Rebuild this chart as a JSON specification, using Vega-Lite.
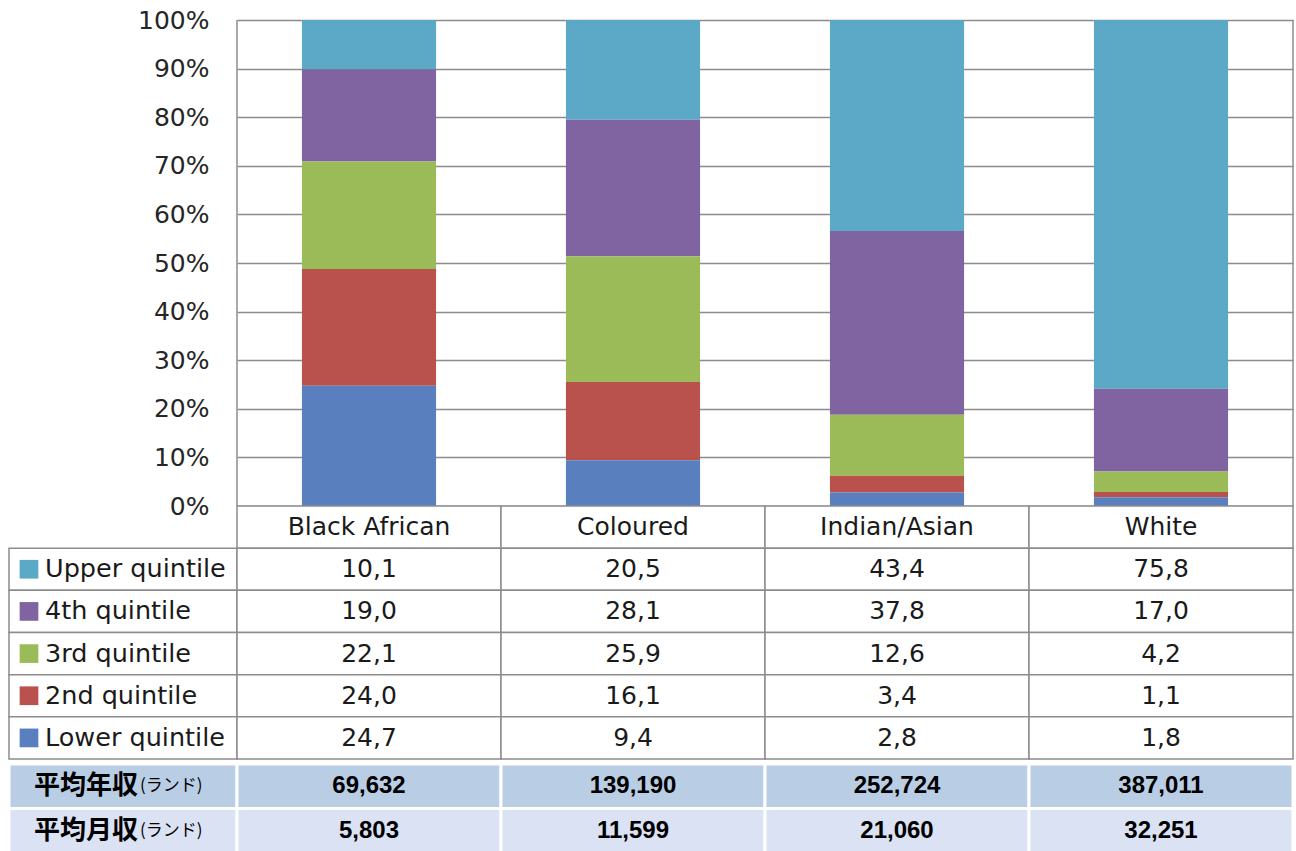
{
  "$schema": "https://vega.github.io/schema/vega-lite/v6.json",
  "padding": {"left": 7, "top": 8, "right": 5, "bottom": 0},
  "background": "white",
  "spacing": 0,
  "bounds": "flush",
  "config": {
    "view": {"stroke": null},
    "font": "DejaVu Sans",
    "locale": {"number": {"decimal": ",", "thousands": ",", "grouping": [3], "currency": ["", ""]}}
  },
  "datasets": {
    "quint": [
      {"group": "Black African", "quintile": "Upper quintile", "qi": 5, "pct": 10.1},
      {"group": "Black African", "quintile": "4th quintile", "qi": 4, "pct": 19.0},
      {"group": "Black African", "quintile": "3rd quintile", "qi": 3, "pct": 22.1},
      {"group": "Black African", "quintile": "2nd quintile", "qi": 2, "pct": 24.0},
      {"group": "Black African", "quintile": "Lower quintile", "qi": 1, "pct": 24.7},
      {"group": "Coloured", "quintile": "Upper quintile", "qi": 5, "pct": 20.5},
      {"group": "Coloured", "quintile": "4th quintile", "qi": 4, "pct": 28.1},
      {"group": "Coloured", "quintile": "3rd quintile", "qi": 3, "pct": 25.9},
      {"group": "Coloured", "quintile": "2nd quintile", "qi": 2, "pct": 16.1},
      {"group": "Coloured", "quintile": "Lower quintile", "qi": 1, "pct": 9.4},
      {"group": "Indian/Asian", "quintile": "Upper quintile", "qi": 5, "pct": 43.4},
      {"group": "Indian/Asian", "quintile": "4th quintile", "qi": 4, "pct": 37.8},
      {"group": "Indian/Asian", "quintile": "3rd quintile", "qi": 3, "pct": 12.6},
      {"group": "Indian/Asian", "quintile": "2nd quintile", "qi": 2, "pct": 3.4},
      {"group": "Indian/Asian", "quintile": "Lower quintile", "qi": 1, "pct": 2.8},
      {"group": "White", "quintile": "Upper quintile", "qi": 5, "pct": 75.8},
      {"group": "White", "quintile": "4th quintile", "qi": 4, "pct": 17.0},
      {"group": "White", "quintile": "3rd quintile", "qi": 3, "pct": 4.2},
      {"group": "White", "quintile": "2nd quintile", "qi": 2, "pct": 1.1},
      {"group": "White", "quintile": "Lower quintile", "qi": 1, "pct": 1.8}
    ],
    "groups": [
      {"group": "Black African"},
      {"group": "Coloured"},
      {"group": "Indian/Asian"},
      {"group": "White"}
    ],
    "summary": [
      {"group": "Black African", "measure": "annual", "value": 69632},
      {"group": "Coloured", "measure": "annual", "value": 139190},
      {"group": "Indian/Asian", "measure": "annual", "value": 252724},
      {"group": "White", "measure": "annual", "value": 387011},
      {"group": "Black African", "measure": "monthly", "value": 5803},
      {"group": "Coloured", "measure": "monthly", "value": 11599},
      {"group": "Indian/Asian", "measure": "monthly", "value": 21060},
      {"group": "White", "measure": "monthly", "value": 32251}
    ],
    "qnames": [
      {"quintile": "Upper quintile"},
      {"quintile": "4th quintile"},
      {"quintile": "3rd quintile"},
      {"quintile": "2nd quintile"},
      {"quintile": "Lower quintile"}
    ],
    "slabels": [
      {"measure": "annual", "label": "平均年収"},
      {"measure": "monthly", "label": "平均月収"}
    ],
    "frame": [{"edge": "plot"}]
  },
  "resolve": {"scale": {"x": "independent", "y": "independent", "color": "independent"}},
  "hconcat": [
    {
      "width": 228,
      "height": 831,
      "layer": [
        {
          "data": {"name": "qnames"},
          "encoding": {
            "y": {"field": "quintile", "type": "nominal", "scale": {"domain": ["header", "Upper quintile", "4th quintile", "3rd quintile", "2nd quintile", "Lower quintile"], "range": [486, 739], "paddingInner": 0, "paddingOuter": 0}, "axis": null}
          },
          "layer": [
            {"mark": {"type": "rect", "fill": "white", "stroke": "#8c8c8c", "strokeWidth": 1.5}, "encoding": {"x": {"value": 0}, "x2": {"value": "width"}}},
            {"mark": {"type": "point", "shape": "square", "filled": true, "size": 350, "opacity": 1}, "encoding": {"x": {"value": 20}, "color": {"field": "quintile", "type": "nominal", "scale": {"domain": ["Lower quintile", "2nd quintile", "3rd quintile", "4th quintile", "Upper quintile"], "range": ["#5a7fbe", "#b9514c", "#9bbb59", "#8064a2", "#5ba9c6"]}, "legend": null}}},
            {"mark": {"type": "text", "align": "left", "baseline": "middle", "fontSize": 25.5, "font": "DejaVu Sans", "color": "#1a1a1a"}, "encoding": {"x": {"value": 36}, "text": {"field": "quintile"}}}
          ]
        },
        {
          "data": {"name": "slabels"},
          "encoding": {
            "y": {"field": "measure", "type": "nominal", "scale": {"domain": ["annual", "monthly"], "range": [744, 833], "paddingInner": 0, "paddingOuter": 0}, "axis": null}
          },
          "layer": [
            {"mark": {"type": "rect", "stroke": "white", "strokeWidth": 3}, "encoding": {"x": {"value": 0}, "x2": {"value": "width"}, "color": {"field": "measure", "type": "nominal", "scale": {"domain": ["annual", "monthly"], "range": ["#b9cde5", "#dbe2f4"]}, "legend": null}}},
            {"mark": {"type": "text", "align": "left", "baseline": "middle", "fontSize": 26, "fontWeight": "bold", "font": "Noto Sans CJK JP", "color": "black"}, "encoding": {"x": {"value": 25}, "text": {"field": "label"}}},
            {"mark": {"type": "text", "align": "left", "baseline": "middle", "fontSize": 17, "font": "Noto Sans CJK JP", "color": "black"}, "encoding": {"x": {"value": 131}, "text": {"value": "(ランド)"}}}
          ]
        }
      ],
      "resolve": {"scale": {"y": "independent", "color": "independent"}}
    },
    {
      "width": 1056,
      "height": 831,
      "layer": [
        {
          "layer": [
            {
              "data": {"name": "quint"},
              "mark": {"type": "bar", "width": {"band": 0.508}},
              "encoding": {
                "x": {"field": "group", "type": "nominal", "sort": null, "scale": {"domain": ["Black African", "Coloured", "Indian/Asian", "White"], "paddingInner": 0, "paddingOuter": 0}, "axis": null},
                "y": {"field": "pct", "type": "quantitative", "stack": "normalize", "scale": {"domain": [0, 1], "range": [486, 0], "nice": false}, "axis": {"values": [0, 0.1, 0.2, 0.3, 0.4, 0.5, 0.6, 0.7, 0.8, 0.9, 1], "format": ".0%", "grid": true, "gridColor": "#8c8c8c", "gridWidth": 1.5, "domain": false, "ticks": false, "labelPadding": 28, "labelFontSize": 25, "labelFont": "DejaVu Sans", "labelColor": "#262626", "labelFlush": false, "labelOverlap": false, "title": null}},
                "color": {"field": "quintile", "type": "nominal", "scale": {"domain": ["Lower quintile", "2nd quintile", "3rd quintile", "4th quintile", "Upper quintile"], "range": ["#5a7fbe", "#b9514c", "#9bbb59", "#8064a2", "#5ba9c6"]}, "legend": null},
                "order": {"field": "qi", "type": "quantitative"}
              }
            },
            {
              "data": {"name": "frame"},
              "mark": {"type": "rule", "color": "#8c8c8c", "strokeWidth": 1.5},
              "encoding": {"x": {"datum": "Black African", "bandPosition": 0}, "y": {"datum": 0}, "y2": {"datum": 1}}
            },
            {
              "data": {"name": "frame"},
              "mark": {"type": "rule", "color": "#8c8c8c", "strokeWidth": 1.5},
              "encoding": {"x": {"datum": "White", "bandPosition": 1}, "y": {"datum": 0}, "y2": {"datum": 1}}
            }
          ]
        },
        {
          "layer": [
            {
              "data": {"name": "groups"},
              "mark": {"type": "rect", "fill": "white", "stroke": "#8c8c8c", "strokeWidth": 1.5},
              "encoding": {
                "x": {"field": "group", "type": "nominal"},
                "y": {"datum": "header", "type": "nominal", "scale": {"domain": ["header", "Upper quintile", "4th quintile", "3rd quintile", "2nd quintile", "Lower quintile"], "range": [486, 739], "paddingInner": 0, "paddingOuter": 0}, "axis": null}
              }
            },
            {
              "data": {"name": "groups"},
              "mark": {"type": "text", "baseline": "middle", "fontSize": 25, "font": "DejaVu Sans", "color": "#1a1a1a"},
              "encoding": {
                "x": {"field": "group", "type": "nominal"},
                "y": {"datum": "header", "type": "nominal"},
                "text": {"field": "group"}
              }
            },
            {
              "data": {"name": "quint"},
              "mark": {"type": "rect", "fill": "white", "stroke": "#8c8c8c", "strokeWidth": 1.5},
              "encoding": {
                "x": {"field": "group", "type": "nominal"},
                "y": {"field": "quintile", "type": "nominal"}
              }
            },
            {
              "data": {"name": "quint"},
              "mark": {"type": "text", "baseline": "middle", "fontSize": 25, "font": "DejaVu Sans", "color": "#1a1a1a"},
              "encoding": {
                "x": {"field": "group", "type": "nominal"},
                "y": {"field": "quintile", "type": "nominal"},
                "text": {"field": "pct", "type": "quantitative", "format": ".1f"}
              }
            }
          ]
        },
        {
          "data": {"name": "summary"},
          "encoding": {
            "x": {"field": "group", "type": "nominal"},
            "y": {"field": "measure", "type": "nominal", "scale": {"domain": ["annual", "monthly"], "range": [744, 833], "paddingInner": 0, "paddingOuter": 0}, "axis": null}
          },
          "layer": [
            {"mark": {"type": "rect", "stroke": "white", "strokeWidth": 3}, "encoding": {"color": {"field": "measure", "type": "nominal", "scale": {"domain": ["annual", "monthly"], "range": ["#b9cde5", "#dbe2f4"]}, "legend": null}}},
            {"mark": {"type": "text", "baseline": "middle", "fontSize": 24, "font": "Liberation Sans", "fontWeight": "bold", "color": "black"}, "encoding": {"text": {"field": "value", "type": "quantitative", "format": ",d"}}}
          ]
        }
      ],
      "resolve": {"scale": {"y": "independent", "color": "independent"}}
    }
  ]
}
